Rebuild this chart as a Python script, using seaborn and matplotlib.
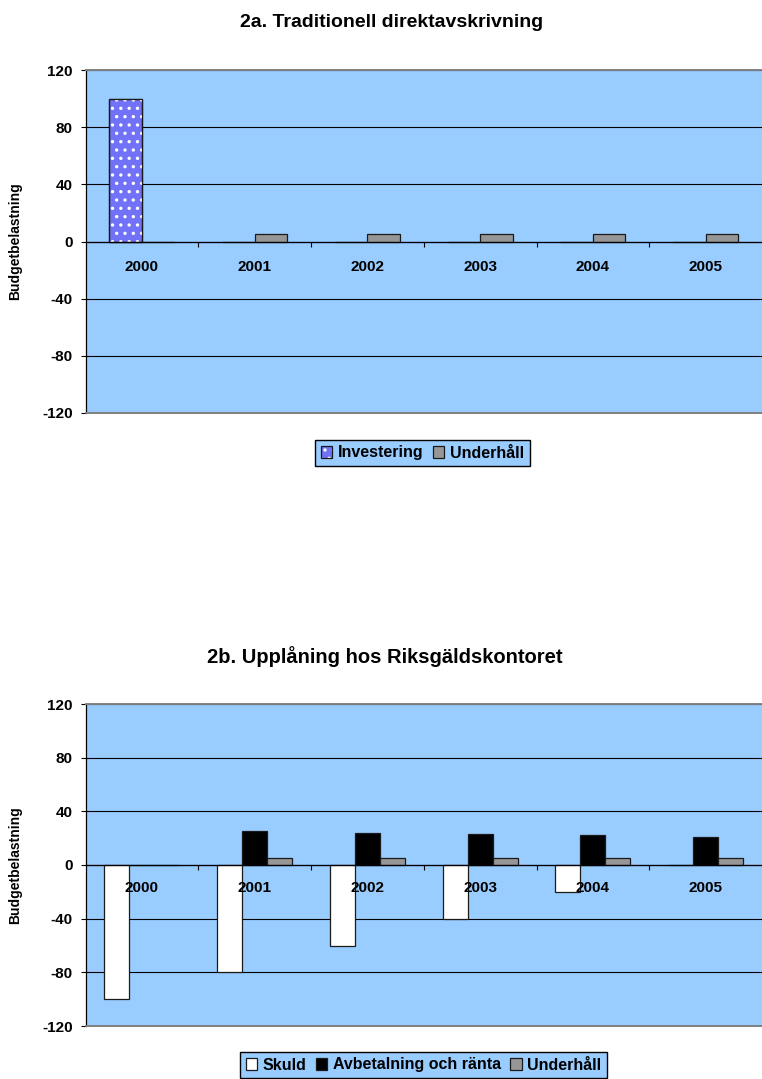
import numpy as np
import pandas as pd
import matplotlib
matplotlib.use("Agg")
import matplotlib.pyplot as plt
from matplotlib.patches import Patch, Rectangle
from matplotlib.legend_handler import HandlerTuple
from matplotlib.ticker import FixedLocator
import seaborn as sns

# ---- data ----
years = ["2000", "2001", "2002", "2003", "2004", "2005"]

# 2a: direct write-off
investering_a = [100, 0, 0, 0, 0, 0]
underhall_a = [0, 5, 5, 5, 5, 5]

# 2b: borrowing from Riksgäldskontoret
skuld_b = [-100, -80, -60, -40, -20, 0]
avbetalning_b = [0, 25, 24, 23, 22, 21]
underhall_b = [0, 5, 5, 5, 5, 5]

y_ticks = [-120, -80, -40, 0, 40, 80, 120]

title_a = "2a. Traditionell direktavskrivning"
title_b = "2b. Upplåning hos Riksgäldskontoret"
y_label = "Budgetbelastning"

# ---- style ----
sns.set_style("white")
plt.rcParams["font.family"] = ["Liberation Sans", "DejaVu Sans"]
plt.rcParams["hatch.linewidth"] = 1.2
for key in ("text.color", "axes.labelcolor", "xtick.color", "ytick.color"):
    plt.rcParams[key] = "black"

PLOT_BG = "#99CCFF"
BLUE = "#7272f8"
GREY = "#969696"
BORDER = "#808080"
EDGE = "#1a1a1a"

df_a = pd.DataFrame({
    "year": years * 2,
    "value": investering_a + underhall_a,
    "series": ["Investering"] * 6 + ["Underhåll"] * 6,
})
df_b = pd.DataFrame({
    "year": years * 3,
    "value": skuld_b + avbetalning_b + underhall_b,
    "series": ["Skuld"] * 6 + ["Avbetalning och ränta"] * 6 + ["Underhåll"] * 6,
})

fig = plt.figure(figsize=(7.62, 10.79), dpi=100)
fig.patch.set_facecolor("white")

W = 762
H = 1079
ax_a = fig.add_axes([85.5 / W, 1 - 413 / H, 676.5 / W, (413 - 70) / H])
ax_b = fig.add_axes([85.5 / W, 1 - 1026 / H, 676.5 / W, (1026 - 704) / H])


def style_axes(ax, label_pad):
    ax.set_facecolor(PLOT_BG)
    ax.set_ylim(-120, 120)
    ax.set_xlim(-0.5, 5.5)
    ax.set_axisbelow(True)
    ax.xaxis.set_zorder(3)
    ax.yaxis.grid(True, color="black", linewidth=0.8)
    ax.xaxis.grid(False)
    ax.set_yticks(y_ticks)
    ax.set_yticklabels([str(v) for v in y_ticks], fontsize=11, fontweight="bold")
    ax.tick_params(axis="y", direction="out", length=3.6, width=0.8,
                   color="black", pad=5.5, left=True)
    ax.spines["left"].set_color("black")
    ax.spines["left"].set_linewidth(0.9)
    ax.spines["right"].set_visible(False)
    ax.spines["top"].set_color(BORDER)
    ax.spines["top"].set_linewidth(1.4)
    ax.spines["top"].set_zorder(4)
    ax.spines["bottom"].set_position(("data", 0))
    ax.spines["bottom"].set_color("black")
    ax.spines["bottom"].set_linewidth(0.9)
    ax.spines["bottom"].set_zorder(4)
    # lower border of the plot area
    ax.plot([0, 1], [0, 0], transform=ax.transAxes, color=BORDER,
            linewidth=1.4, clip_on=False, zorder=4)
    ax.set_xticks(range(len(years)))
    ax.set_xticklabels(years, fontsize=11, fontweight="bold")
    ax.xaxis.set_minor_locator(FixedLocator(np.arange(0.5, len(years) - 0.5, 1)))
    ax.tick_params(axis="x", which="major", length=0, pad=label_pad, bottom=True)
    ax.tick_params(axis="x", which="minor", length=3.6, width=0.8,
                   direction="out", color="black", bottom=True)
    ax.set_xlabel("")
    ax.set_ylabel(y_label, fontsize=10, fontweight="bold")
    ax.yaxis.set_label_coords((22 - 85.5) / 676.5, 0.5)


# ---- chart 2a ----
sns.barplot(data=df_a, x="year", y="value", hue="series", order=years,
            hue_order=["Investering", "Underhåll"],
            palette={"Investering": BLUE, "Underhåll": GREY},
            width=0.577, gap=0, errorbar=None, legend=False,
            edgecolor=EDGE, linewidth=0.9, saturation=1, ax=ax_a, zorder=2)
style_axes(ax_a, label_pad=13.5)

# dotted fill on the investment bars
for bar in list(ax_a.patches)[:6]:
    if bar.get_height() > 0:
        ax_a.add_patch(Rectangle((bar.get_x(), bar.get_y()), bar.get_width(),
                                 bar.get_height(), facecolor="none",
                                 edgecolor="white", hatch="..", linewidth=0,
                                 zorder=2.1))
        ax_a.add_patch(Rectangle((bar.get_x(), bar.get_y()), bar.get_width(),
                                 bar.get_height(), facecolor="none",
                                 edgecolor=EDGE, linewidth=0.9, zorder=2.2))

# ---- chart 2b ----
sns.barplot(data=df_b, x="year", y="value", hue="series", order=years,
            hue_order=["Skuld", "Avbetalning och ränta", "Underhåll"],
            palette={"Skuld": "white", "Avbetalning och ränta": "black",
                     "Underhåll": GREY},
            width=0.665, gap=0, errorbar=None, legend=False,
            edgecolor=EDGE, linewidth=0.9, saturation=1, ax=ax_b, zorder=2)
style_axes(ax_b, label_pad=11.5)

# ---- titles ----
fig.text(392 / W, 1 - 27 / H, title_a, ha="center", va="baseline",
         fontsize=14, fontweight="bold")
fig.text(385 / W, 1 - 663 / H, title_b, ha="center", va="baseline",
         fontsize=14.5, fontweight="bold")

# ---- legends ----
def square(fc):
    return Patch(facecolor=fc, edgecolor=EDGE, linewidth=0.9)

inv_handle = (Patch(facecolor=BLUE, edgecolor="white", hatch="..", linewidth=0),
              Patch(facecolor="none", edgecolor=EDGE, linewidth=0.9))

legend_kw = dict(loc="center", ncol=3, frameon=True, fancybox=False,
                 framealpha=1, facecolor=PLOT_BG, edgecolor="black",
                 prop={"size": 11.5, "weight": "bold"},
                 handlelength=0.7, handleheight=0.7, handletextpad=0.35,
                 columnspacing=0.6, borderpad=0.35, borderaxespad=0)

leg_a = fig.legend([inv_handle, square(GREY)], ["Investering", "Underhåll"],
                   bbox_to_anchor=(422.5 / W, 1 - 453 / H),
                   handler_map={tuple: HandlerTuple(ndivide=1, pad=0)},
                   **legend_kw)
leg_a.get_frame().set_linewidth(1.0)

leg_b = fig.legend([square("white"), square("black"), square(GREY)],
                   ["Skuld", "Avbetalning och ränta", "Underhåll"],
                   bbox_to_anchor=(423.5 / W, 1 - 1065 / H), **legend_kw)
leg_b.get_frame().set_linewidth(1.0)

fig.savefig("out.png", dpi=100, facecolor="white")
